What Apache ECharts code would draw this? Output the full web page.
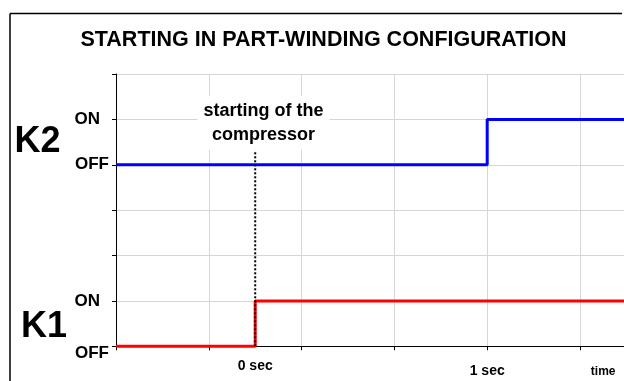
<!DOCTYPE html>
<html>
<head>
<meta charset="utf-8">
<script src="https://cdn.jsdelivr.net/npm/echarts@6/dist/echarts.min.js"></script>
<style>
  html, body { margin: 0; padding: 0; background: #fff; overflow: hidden; }
  #chart { width: 624px; height: 381px; }
</style>
</head>
<body>
<div id="chart"></div>
<script>
// Contactor timing diagram for a part-winding start.
const titleText = 'STARTING IN PART-WINDING CONFIGURATION';

// switching times (seconds) and the level each contactor holds from that time on
const k1Times = [-0.6, 0, 1.8];
const k1States = [0, 1, 1];
const k2Times = [-0.6, 1, 1.8];
const k2States = [4, 5, 5];

// state levels on the vertical axis and their names
const stateLevels = [0, 1, 4, 5];
const stateNames = ['OFF', 'ON', 'OFF', 'ON'];

// captions under the time axis
const timeLabelValues = [0, 1, 1.5];
const timeLabelTexts = ['0 sec', '1 sec', 'time'];

// dotted marker at the compressor start
const startTimes = [0, 0];
const startLevels = [0, 4.32];

const contactorNames = ['K1', 'K2'];
const noteText = 'starting of the\ncompressor';

const FONT = '"Liberation Sans", Arial, Helvetica, sans-serif';

const pairs = (xs, ys) => xs.map((x, i) => [x, ys[i]]);

const chart = echarts.init(document.getElementById('chart'), null, { renderer: 'canvas' });

chart.setOption({
  animation: false,
  backgroundColor: '#fff',
  grid: {
    left: 116,
    top: 74,
    right: -48.8,
    bottom: 34.7,
    outerBoundsMode: 'none'
  },
  xAxis: {
    type: 'value',
    min: -0.6,
    max: 1.8,
    interval: 0.4,
    axisLine: { show: true, onZero: false, lineStyle: { color: '#000', width: 1 } },
    axisTick: { show: true, length: 4, lineStyle: { color: '#000' } },
    splitLine: { show: true, lineStyle: { color: '#d6d6d6', width: 1 } },
    axisLabel: {
      customValues: timeLabelValues,
      margin: 13,
      color: '#000',
      fontFamily: FONT,
      fontWeight: 'bold',
      fontSize: 14,
      formatter: function (v) {
        const i = timeLabelValues.indexOf(v);
        if (i < 0) return '';
        const key = ['t0', 't1', 'tn'][i];
        return '{' + key + '|' + timeLabelTexts[i] + '}';
      },
      rich: {
        t0: { fontSize: 14, fontWeight: 'bold', fontFamily: FONT, color: '#000', padding: [0, 0, 0, 0] },
        t1: { fontSize: 14, fontWeight: 'bold', fontFamily: FONT, color: '#000', padding: [4.5, 0, 0, 0] },
        tn: { fontSize: 12, fontWeight: 'bold', fontFamily: FONT, color: '#000', padding: [6.5, 0, 0, 0] }
      }
    }
  },
  yAxis: {
    type: 'value',
    min: 0,
    max: 6,
    interval: 1,
    axisLine: { show: true, onZero: false, lineStyle: { color: '#000', width: 1 } },
    axisTick: { show: true, length: 4, lineStyle: { color: '#000' } },
    splitLine: { show: true, lineStyle: { color: '#d6d6d6', width: 1 } },
    axisLabel: {
      margin: 7,
      color: '#000',
      fontFamily: FONT,
      fontWeight: 'bold',
      fontSize: 17,
      formatter: function (v) {
        const i = stateLevels.indexOf(v);
        if (i < 0) return '';
        const name = stateNames[i];
        const key = v === 0 ? 'offLow' : (name === 'ON' ? 'on' : 'off');
        return '{' + key + '|' + name + '}';
      },
      rich: {
        on: { fontSize: 17, fontWeight: 'bold', fontFamily: FONT, color: '#000', padding: [0, 9, 0, 0] },
        off: { fontSize: 17, fontWeight: 'bold', fontFamily: FONT, color: '#000' },
        offLow: { fontSize: 17, fontWeight: 'bold', fontFamily: FONT, color: '#000', padding: [14, 0, 0, 0] }
      }
    }
  },
  series: [
    {
      name: contactorNames[1],
      type: 'line',
      step: 'end',
      data: pairs(k2Times, k2States),
      symbol: 'none',
      clip: false,
      z: 3,
      lineStyle: { color: '#0000ff', width: 3 }
    },
    {
      name: contactorNames[0],
      type: 'line',
      step: 'end',
      data: pairs(k1Times, k1States),
      symbol: 'none',
      clip: false,
      z: 3,
      lineStyle: { color: '#ff0000', width: 3 }
    },
    {
      name: 'start',
      type: 'line',
      data: pairs(startTimes, startLevels),
      symbol: 'none',
      clip: false,
      z: 4,
      lineStyle: { color: '#000', width: 2, type: [2, 2] }
    }
  ],
  graphic: [
    {
      // left edge of the chart frame
      type: 'line',
      silent: true,
      shape: { x1: 10, y1: 13.5, x2: 10, y2: 381 },
      style: { stroke: '#000', lineWidth: 1.5 }
    },
    {
      // top edge of the chart frame
      type: 'line',
      silent: true,
      shape: { x1: 10, y1: 13.5, x2: 622, y2: 13.5 },
      style: { stroke: '#000', lineWidth: 1.5 }
    },
    {
      type: 'text',
      x: 323.5, y: 40,
      silent: true,
      style: {
        text: titleText,
        font: 'bold 21.5px ' + FONT,
        fill: '#000',
        align: 'center',
        verticalAlign: 'middle'
      }
    },
    {
      type: 'text',
      x: 14.5, y: 142,
      silent: true,
      style: {
        text: contactorNames[1],
        font: 'bold 36px ' + FONT,
        fill: '#000',
        align: 'left',
        verticalAlign: 'middle'
      }
    },
    {
      type: 'text',
      x: 21, y: 327,
      silent: true,
      style: {
        text: contactorNames[0],
        font: 'bold 36px ' + FONT,
        fill: '#000',
        align: 'left',
        verticalAlign: 'middle'
      }
    },
    {
      type: 'text',
      x: 263.5, y: 123,
      z: 10,
      silent: true,
      style: {
        text: noteText,
        font: 'bold 18px ' + FONT,
        fill: '#000',
        align: 'center',
        verticalAlign: 'middle',
        lineHeight: 24,
        backgroundColor: '#fff',
        padding: [3, 6]
      }
    }
  ]
});
</script>
</body>
</html>
